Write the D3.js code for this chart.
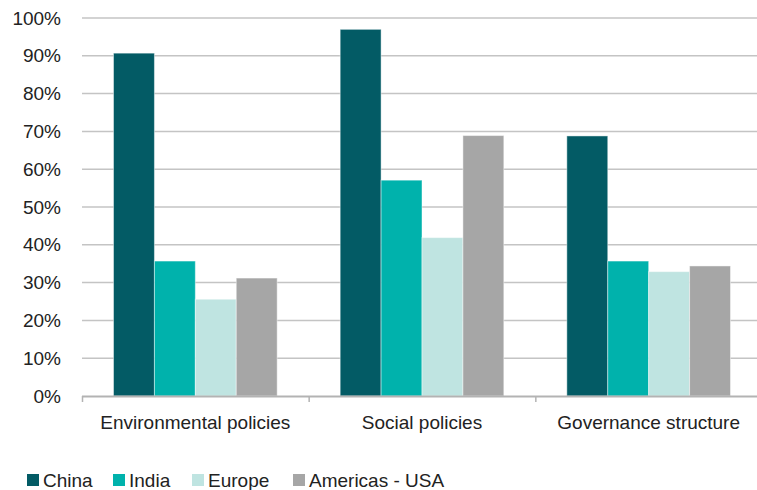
<!DOCTYPE html>
<html>
<head>
<meta charset="utf-8">
<script src="https://cdn.jsdelivr.net/npm/d3@7"></script>
<style>
  body { margin: 0; background: #fff; }
  svg { font-family: "Liberation Sans", Arial, sans-serif; }
</style>
</head>
<body>
<script>
const categories = ["Environmental policies", "Social policies", "Governance structure"];
const seriesNames = ["China", "India", "Europe", "Americas - USA"];
const china = [90.7, 97.0, 68.8];
const india = [35.7, 57.1, 35.7];
const europe = [25.6, 41.9, 32.9];
const americas = [31.2, 68.9, 34.4];
const yTicks = [0, 10, 20, 30, 40, 50, 60, 70, 80, 90, 100];
const colors = ["#035b65", "#00b2ac", "#bfe4e1", "#a6a6a6"];

const series = [china, india, europe, americas];

const width = 757, height = 490;
const svg = d3.select("body").append("svg")
    .attr("width", width)
    .attr("height", height);

const x = d3.scaleBand()
    .domain(categories)
    .range([82, 762])
    .paddingInner(0)
    .paddingOuter(0);

// bars inside a category
const xInner = d3.scaleBand()
    .domain(seriesNames)
    .range([0, x.bandwidth()])
    .paddingOuter(0.77)
    .paddingInner(0);

const y = d3.scaleLinear()
    .domain([0, 100])
    .range([396, 18]);

// gridlines
svg.append("g")
    .selectAll("line")
    .data(yTicks.filter(d => d > 0))
    .enter().append("line")
    .attr("x1", 82)
    .attr("x2", width)
    .attr("y1", d => y(d))
    .attr("y2", d => y(d))
    .attr("stroke", "#c4c4c4")
    .attr("stroke-width", 1.5);

// y labels
svg.append("g")
    .selectAll("text")
    .data(yTicks)
    .enter().append("text")
    .attr("x", 61)
    .attr("y", d => y(d))
    .attr("dy", "0.35em")
    .attr("text-anchor", "end")
    .attr("font-size", 19)
    .attr("fill", "#222")
    .text(d => d + "%");

// bars
const groups = svg.append("g")
    .selectAll("g")
    .data(categories)
    .enter().append("g")
    .attr("transform", d => `translate(${x(d)},0)`);

groups.selectAll("rect")
    .data((c, ci) => seriesNames.map((s, si) => ({ s: s, v: series[si][ci], i: si })))
    .enter().append("rect")
    .attr("x", d => xInner(d.s))
    .attr("width", xInner.bandwidth())
    .attr("y", d => y(d.v))
    .attr("height", d => y(0) - y(d.v))
    .attr("fill", d => colors[d.i])
    .attr("stroke", "#fff")
    .attr("stroke-opacity", 0.45)
    .attr("stroke-width", 1);

// x axis line and ticks
svg.append("line")
    .attr("x1", 82).attr("x2", width)
    .attr("y1", 396.5).attr("y2", 396.5)
    .attr("stroke", "#b3b3b3")
    .attr("stroke-width", 2);

svg.append("g")
    .selectAll("line")
    .data(categories)
    .enter().append("line")
    .attr("x1", d => x(d) + 0.5)
    .attr("x2", d => x(d) + 0.5)
    .attr("y1", 396)
    .attr("y2", 402)
    .attr("stroke", "#b3b3b3")
    .attr("stroke-width", 1.5);

// category labels
svg.append("g")
    .selectAll("text")
    .data(categories)
    .enter().append("text")
    .attr("x", d => x(d) + x.bandwidth() / 2)
    .attr("y", 429)
    .attr("text-anchor", "middle")
    .attr("font-size", 19)
    .attr("fill", "#222")
    .text(d => d);

// legend
const legendX = [27, 113, 192, 293];
const legend = svg.append("g")
    .selectAll("g")
    .data(seriesNames)
    .enter().append("g")
    .attr("transform", (d, i) => `translate(${legendX[i]},474)`);

legend.append("rect")
    .attr("width", 12)
    .attr("height", 12)
    .attr("fill", (d, i) => colors[i]);

legend.append("text")
    .attr("x", 16)
    .attr("y", 13)
    .attr("font-size", 19)
    .attr("fill", "#222")
    .text(d => d);
</script>
</body>
</html>
